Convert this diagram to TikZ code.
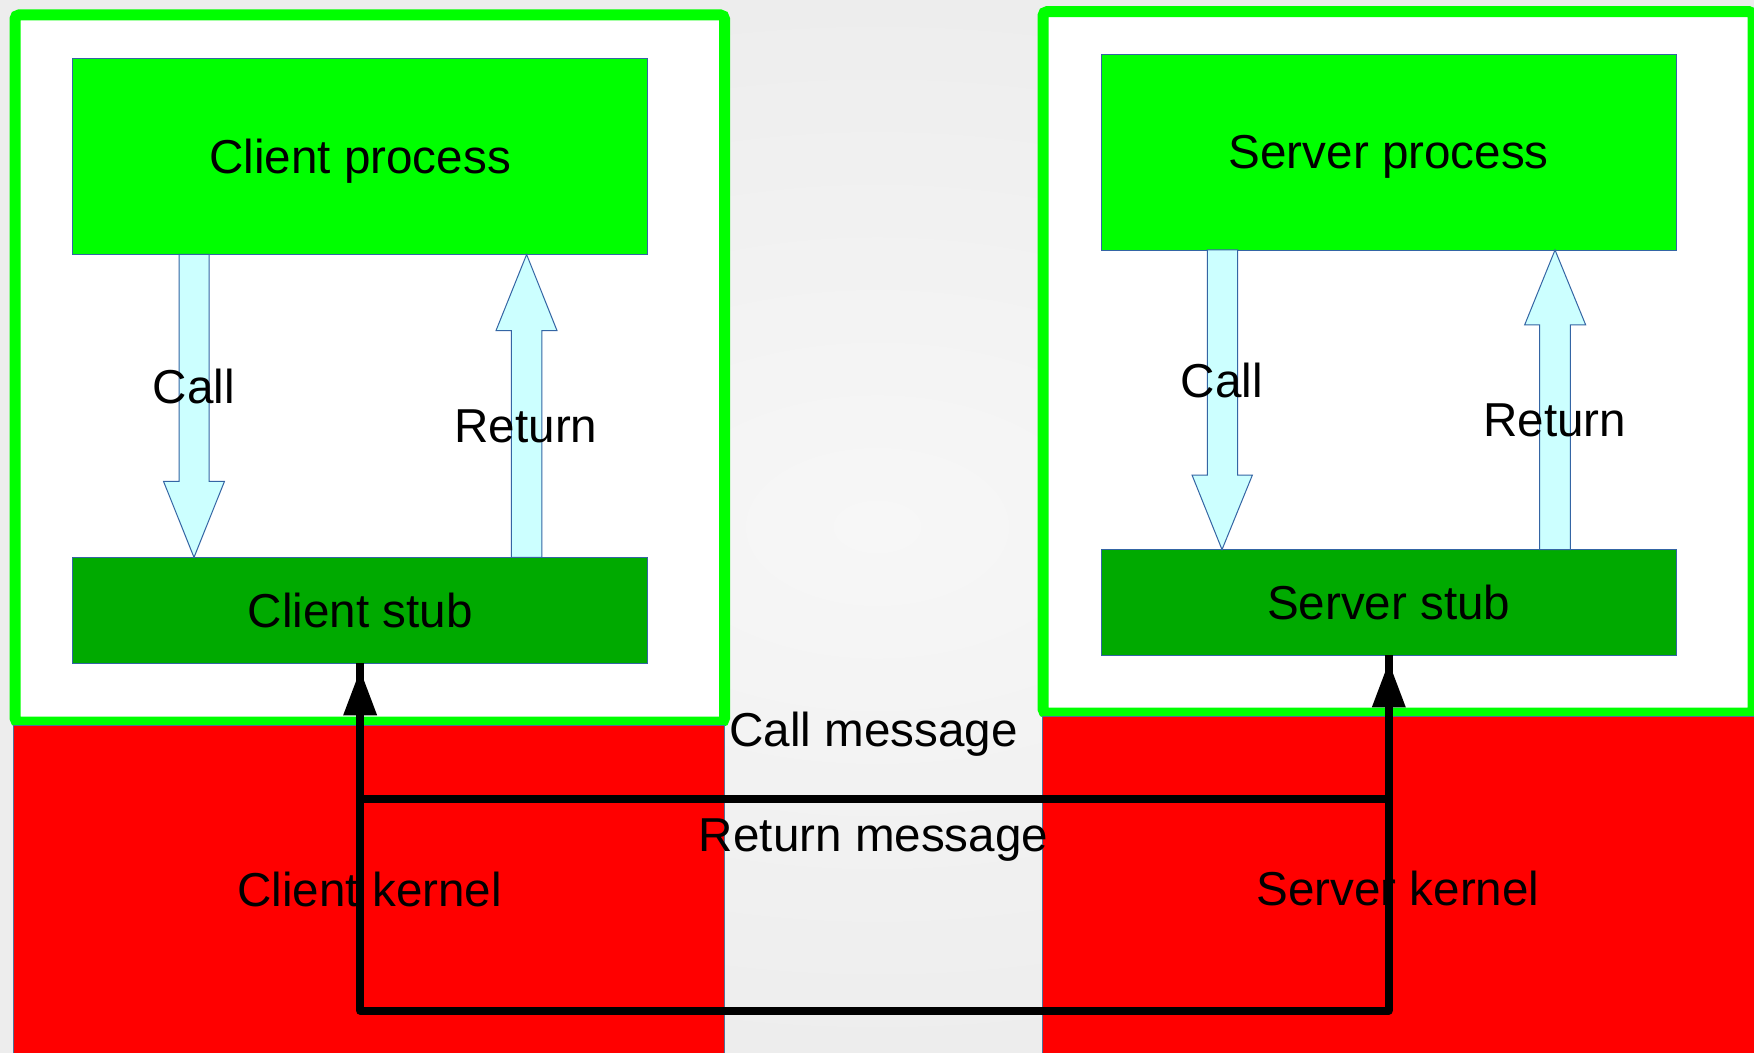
\documentclass[tikz,border=0pt]{standalone}
\usepackage{fontspec}
\setmainfont{Liberation Sans}
\usetikzlibrary{calc}
\definecolor{procgreen}{HTML}{00FF00}
\definecolor{stubgreen}{HTML}{00AA00}
\definecolor{kernelred}{HTML}{FF0000}
\definecolor{edgeblue}{HTML}{3465A4}
\definecolor{arrowfill}{HTML}{CCFFFF}
\definecolor{bgin}{HTML}{F7F7F7}
\definecolor{bgout}{HTML}{EDEDED}
\begin{document}
\begin{tikzpicture}[x=0.5pt,y=-0.5pt,
  every node/.style={font=\fontsize{23.8}{28}\selectfont, inner sep=0pt},
  frame/.style={draw=procgreen, line width=5.5pt, fill=white, rounded corners=2pt},
  kernel/.style={fill=kernelred, draw=edgeblue!60!gray, line width=0.4pt},
  procbox/.style={draw=edgeblue, line width=0.4pt, fill=procgreen, minimum width=287.6pt, minimum height=98pt, text depth=0pt},
  stubbox/.style={draw=edgeblue, line width=0.4pt, fill=stubgreen, minimum width=287.6pt, minimum height=52.7pt, text depth=0pt},
  blockarrow/.style={draw=edgeblue, line width=0.5pt, fill=arrowfill},
  wire/.style={line width=4pt},
  lbl/.style={anchor=base}]

% page background
\useasboundingbox (0,0) rectangle (1754,1053);
\shade[inner color=bgin, outer color=bgout] (0,0) rectangle (1754,1053);

% white host frames
\draw[frame] (15,15) rectangle (724.5,722);
\draw[frame] (1043,11.7) rectangle (1753,713);

% kernel areas
\fill[kernel] (13.5,725) rectangle (724.5,1060);
\fill[kernel] (1042,716) rectangle (1760,1060);

% process and stub boxes
\node[procbox] (cproc) at (360.15,156.35) {Client process};
\node[stubbox] (cstub) at (360.15,610.2) {Client stub};
\node[procbox] (sproc) at (1388.8,152.15) {Server process};
\node[stubbox] (sstub) at (1388.8,602.25) {Server stub};

% call / return block arrows
\draw[blockarrow] (179,254.5) -- (209,254.5) -- (209,481.3) -- (224.5,481.3)
  -- (194,557.4) -- (163.5,481.3) -- (179,481.3) -- cycle;
\draw[blockarrow] (511.4,557.4) -- (541.9,557.4) -- (541.9,330.6) -- (557,330.6)
  -- (526.6,254.5) -- (496,330.6) -- (511.4,330.6) -- cycle;
\draw[blockarrow] (1207.3,250) -- (1237.5,250) -- (1237.5,475) -- (1252.4,475)
  -- (1222,549.6) -- (1192,475) -- (1207.3,475) -- cycle;
\draw[blockarrow] (1539.5,549.6) -- (1570.3,549.6) -- (1570.3,325) -- (1585.7,325)
  -- (1555,250) -- (1524.6,325) -- (1539.5,325) -- cycle;

\node[lbl] (ccall) at (193.9,403.8) {Call};
\node[lbl] (cret) at (526,442) {Return};
\node[lbl] (scall) at (1221.9,397.6) {Call};
\node[lbl] (sret) at (1554.6,436) {Return};

% kernel labels
\node[lbl] (ckern) at (369.7,906.7) {Client kernel};
\node[lbl] (skern) at (1398,905) {Server kernel};

% message paths between the kernels
\coordinate (cmid) at (360.15,799);
\coordinate (smid) at (1388.8,799);
\coordinate (cbot) at (360.15,1010.7);
\coordinate (sbot) at (1388.8,1010.7);
\draw[wire] (cbot) -- (cstub.south);
\draw[wire] (sbot) -- (sstub.south);
\draw[wire] (cmid) -- (smid);
\draw[wire, line cap=round] (cbot) -- (sbot);

% arrowheads just below each stub
\foreach \s in {cstub,sstub}{
  \fill ($(\s.south)+(0,7)$) -- ($(\s.south)+(17,52)$) -- ($(\s.south)+(-17,52)$) -- cycle;
}

\node[lbl] (callmsg) at (873.6,746) {Call message};
\node[lbl] (retmsg) at (873.6,851) {Return message};
\end{tikzpicture}
\end{document}
